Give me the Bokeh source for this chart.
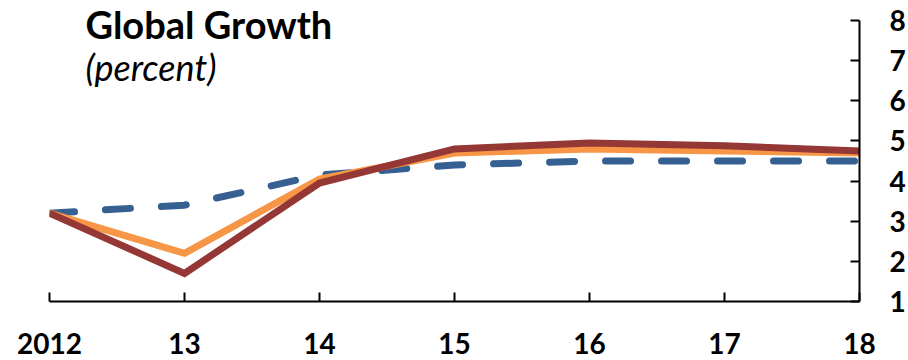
from bokeh.plotting import figure
from bokeh.models import LinearAxis, Range1d, FixedTicker, Label
from bokeh.embed import file_html
from bokeh.resources import INLINE

years = [2012, 2013, 2014, 2015, 2016, 2017, 2018]
year_labels = ["2012", "13", "14", "15", "16", "17", "18"]
series_dashed = [3.2, 3.4, 4.15, 4.4, 4.5, 4.5, 4.5]
series_orange = [3.2, 2.2, 4.05, 4.7, 4.8, 4.75, 4.7]
series_red = [3.2, 1.7, 3.95, 4.8, 4.95, 4.88, 4.75]
y_ticks = [1, 2, 3, 4, 5, 6, 7, 8]

FONT = "Lato"
PX_PER_UNIT = 281 / 7.0
Y_TOP = 8 + 20 / PX_PER_UNIT

p = figure(width=908, height=360, output_backend="svg", toolbar_location=None,
           x_range=Range1d(2012, 2018), y_range=Range1d(1, Y_TOP),
           x_axis_location=None, y_axis_location=None,
           min_border_left=49, min_border_right=46, min_border_top=0, min_border_bottom=59)
p.outline_line_color = None
p.xgrid.visible = False
p.ygrid.visible = False
p.background_fill_color = "white"
p.border_fill_color = "white"

xaxis = LinearAxis(ticker=FixedTicker(ticks=years),
                   major_label_overrides={y: l for y, l in zip(years, year_labels)})
yaxis = LinearAxis(ticker=FixedTicker(ticks=y_ticks), bounds=(1, 8))
for ax in (xaxis, yaxis):
    ax.axis_line_color = "black"
    ax.axis_line_width = 2
    ax.major_tick_line_color = "black"
    ax.major_tick_line_width = 2
    ax.major_tick_in = 9
    ax.major_tick_out = 0
    ax.minor_tick_line_color = None
    ax.major_label_text_font = FONT
    ax.major_label_text_font_style = "bold"
    ax.major_label_text_font_size = "28px"
    ax.major_label_text_color = "black"
xaxis.major_label_standoff = 31
yaxis.major_label_standoff = 30
p.add_layout(xaxis, "below")
p.add_layout(yaxis, "right")

p.line(years, series_dashed, line_color="#366092", line_width=7,
       line_dash="25 31", line_cap="round")
p.line(years, series_orange, line_color="#F79646", line_width=7, line_join="miter")
p.line(years, series_red, line_color="#953735", line_width=7, line_join="miter")

p.add_layout(Label(x=2012.266, y=Y_TOP - 0.5 / PX_PER_UNIT, text="Global Growth", text_font=FONT,
                   text_font_style="bold", text_font_size="38px", text_color="black",
                   text_baseline="top"))
p.add_layout(Label(x=2012.266, y=6.845, text="(percent)", text_font=FONT,
                   text_font_style="italic", text_font_size="36px", text_color="black",
                   text_baseline="alphabetic"))

open("out.html", "w").write(file_html(p, INLINE))
